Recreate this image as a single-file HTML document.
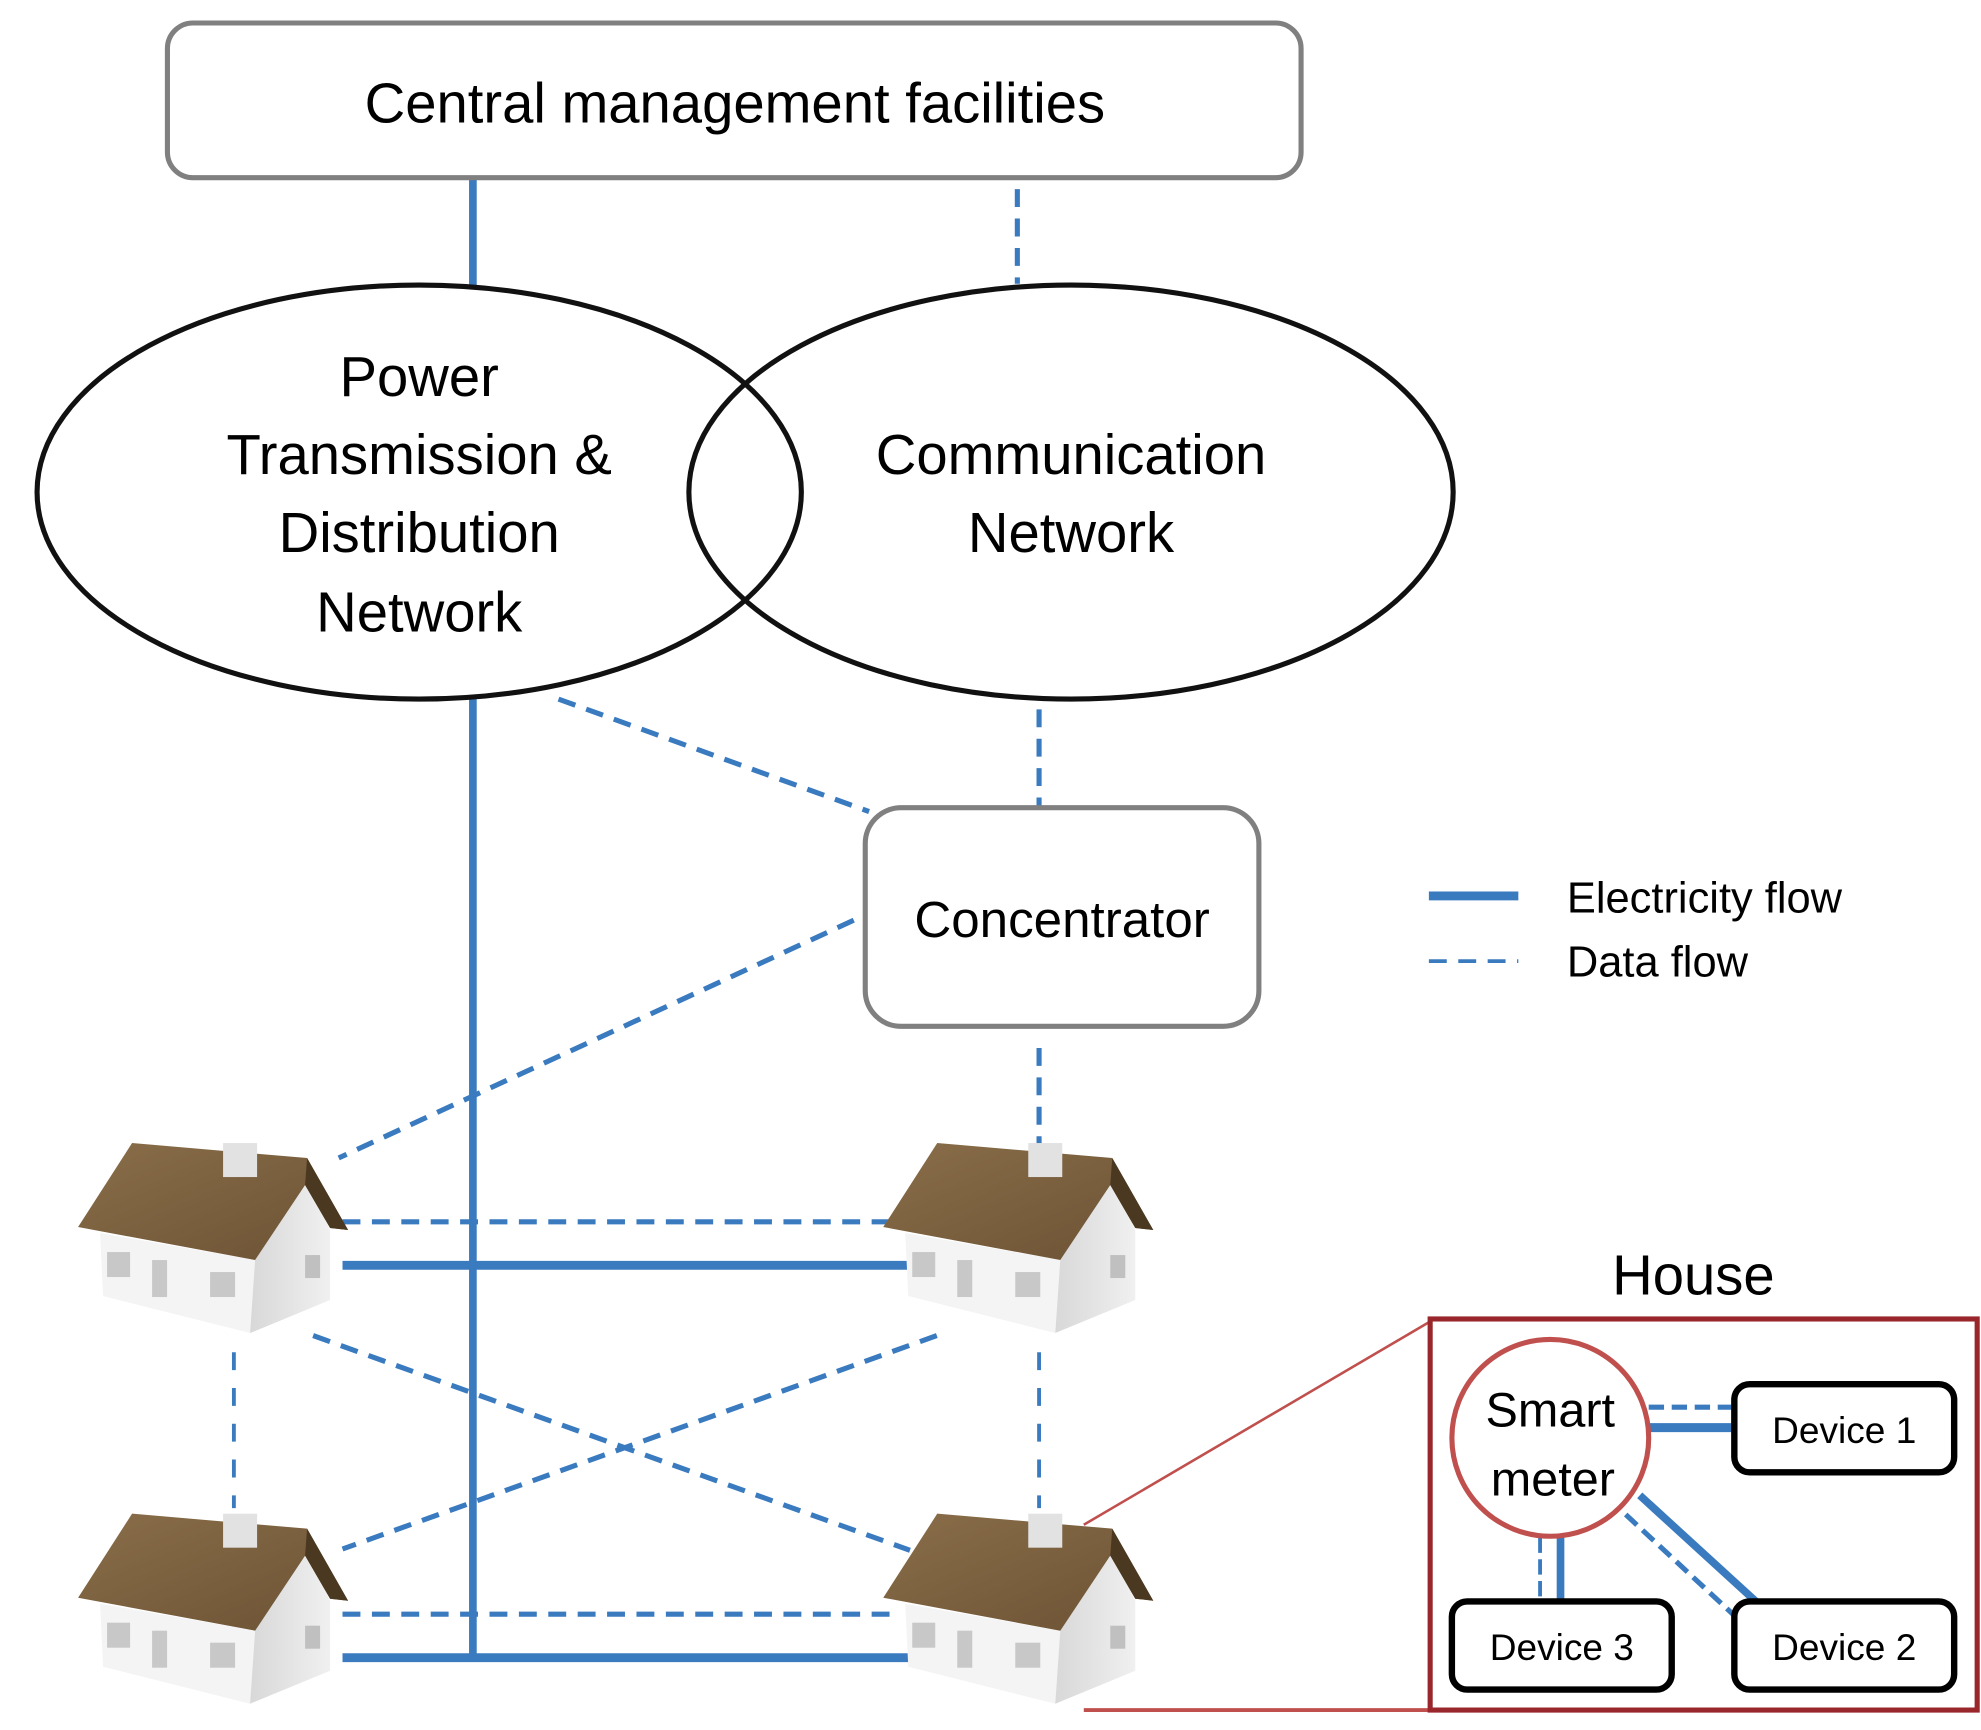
<!DOCTYPE html>
<html><head><style>html,body{margin:0;padding:0;background:#fff}svg{display:block}text{font-family:"Liberation Sans",sans-serif}</style></head>
<body>
<svg width="1981" height="1730" viewBox="0 0 1550 1353.6" preserveAspectRatio="none" xmlns="http://www.w3.org/2000/svg">
<defs>
<linearGradient id="rf" x1="0" y1="0" x2="1" y2="1"><stop offset="0" stop-color="#8a6e4a"/><stop offset="1" stop-color="#6b5233"/></linearGradient>
<linearGradient id="rw" x1="0" y1="0" x2="1" y2="0"><stop offset="0" stop-color="#d8d8d8"/><stop offset="1" stop-color="#f0f0f0"/></linearGradient>
<g id="house">
<polygon points="40,93 195,120 190,193 43,156" fill="#f4f4f4"/>
<polygon points="195,120 245,38 270,90 270,160 190,193" fill="url(#rw)"/>
<polygon points="72,3 247,18 288,90 270,88 245,45 195,120 18,87" fill="url(#rf)"/>
<polygon points="247,18 288,90 270,88 245,45" fill="#4a3820"/>
<rect x="163" y="3" width="34" height="34" fill="#e2e2e2"/>
<rect x="47" y="112" width="23" height="25" fill="#c8c8c8"/>
<rect x="92" y="120" width="15" height="37" fill="#c8c8c8"/>
<rect x="150" y="132" width="25" height="25" fill="#c8c8c8"/>
<rect x="245" y="115" width="15" height="23" fill="#c0c0c0"/>
</g>
</defs>
<g fill="none" stroke="#3a7abf">
<line x1="370" y1="139" x2="370" y2="225" stroke-width="6"/>
<line x1="796" y1="148" x2="796" y2="222" stroke-width="4" stroke-dasharray="14,9"/>
<line x1="370" y1="547" x2="370" y2="1297" stroke-width="6"/>
<line x1="437" y1="547" x2="680" y2="635" stroke-width="4" stroke-dasharray="14,9"/>
<line x1="813" y1="555" x2="813" y2="632" stroke-width="4" stroke-dasharray="14,9"/>
<line x1="668" y1="720" x2="265" y2="906" stroke-width="4" stroke-dasharray="14,9"/>
<line x1="813" y1="820" x2="813" y2="895" stroke-width="4" stroke-dasharray="14,9"/>
<line x1="268" y1="956" x2="700" y2="956" stroke-width="4" stroke-dasharray="14,9"/>
<line x1="268" y1="990" x2="712" y2="990" stroke-width="7"/>
<line x1="268" y1="1263" x2="700" y2="1263" stroke-width="4" stroke-dasharray="14,9"/>
<line x1="268" y1="1297" x2="712" y2="1297" stroke-width="7"/>
<line x1="183" y1="1058" x2="183" y2="1180" stroke-width="3" stroke-dasharray="14,14"/>
<line x1="813" y1="1058" x2="813" y2="1180" stroke-width="3" stroke-dasharray="14,14"/>
<line x1="245" y1="1045" x2="712" y2="1213" stroke-width="4" stroke-dasharray="14,9"/>
<line x1="733" y1="1045" x2="268" y2="1212" stroke-width="4" stroke-dasharray="14,9"/>
<line x1="1118" y1="701" x2="1188" y2="701" stroke-width="7"/>
<line x1="1118" y1="752" x2="1188" y2="752" stroke-width="3" stroke-dasharray="14,9"/>
<line x1="1290" y1="1101" x2="1357" y2="1101" stroke-width="4" stroke-dasharray="12,6"/>
<line x1="1290" y1="1117" x2="1357" y2="1117" stroke-width="7"/>
<line x1="1205" y1="1203" x2="1205" y2="1252" stroke-width="3" stroke-dasharray="12,5"/>
<line x1="1221" y1="1203" x2="1221" y2="1252" stroke-width="6"/>
<line x1="1283" y1="1170" x2="1376" y2="1255" stroke-width="6"/>
<line x1="1272" y1="1185" x2="1358" y2="1265" stroke-width="4" stroke-dasharray="12,6"/>
</g>
<rect x="131" y="18" width="887" height="121" rx="20" fill="#fff" stroke="#808080" stroke-width="4"/>
<text x="575" y="96" font-size="44" text-anchor="middle">Central management facilities</text>
<ellipse cx="328" cy="385" rx="299" ry="162" fill="none" stroke="#111" stroke-width="4"/>
<ellipse cx="838" cy="385" rx="299" ry="162" fill="none" stroke="#111" stroke-width="4"/>
<g font-size="44" text-anchor="middle">
<text x="328" y="310">Power</text><text x="328" y="371">Transmission &amp;</text><text x="328" y="432">Distribution</text><text x="328" y="494">Network</text>
<text x="838" y="371">Communication</text><text x="838" y="432">Network</text>
</g>
<rect x="677" y="632" width="308" height="171" rx="28" fill="#fff" stroke="#808080" stroke-width="4"/>
<text x="831" y="733" font-size="40" text-anchor="middle">Concentrator</text>
<text x="1226" y="714" font-size="34">Electricity flow</text>
<text x="1226" y="764" font-size="34">Data flow</text>
<use href="#house" transform="translate(47,892) scale(0.7825)"/>
<use href="#house" transform="translate(677,892) scale(0.7825)"/>
<use href="#house" transform="translate(47,1182) scale(0.7825)"/>
<use href="#house" transform="translate(677,1182) scale(0.7825)"/>
<text x="1325" y="1013" font-size="44" text-anchor="middle">House</text>
<line x1="848" y1="1193" x2="1119" y2="1034" stroke="#c0504d" stroke-width="2"/>
<line x1="848" y1="1338" x2="1119" y2="1338" stroke="#c0504d" stroke-width="3"/>
<rect x="1119" y="1032" width="428" height="306" fill="none" stroke="#99262a" stroke-width="4"/>
<circle cx="1213" cy="1125" r="77" fill="#fff" stroke="#c0504d" stroke-width="4"/>
<text x="1213" y="1116" font-size="38" text-anchor="middle">Smart</text>
<text x="1215" y="1170" font-size="38" text-anchor="middle">meter</text>
<g fill="#fff" stroke="#000" stroke-width="5">
<rect x="1357" y="1083" width="172" height="69" rx="12"/>
<rect x="1136" y="1253" width="172" height="69" rx="12"/>
<rect x="1357" y="1253" width="172" height="69" rx="12"/>
</g>
<g font-size="29" text-anchor="middle">
<text x="1443" y="1129">Device 1</text>
<text x="1222" y="1299">Device 3</text>
<text x="1443" y="1299">Device 2</text>
</g>
</svg>
</body></html>
